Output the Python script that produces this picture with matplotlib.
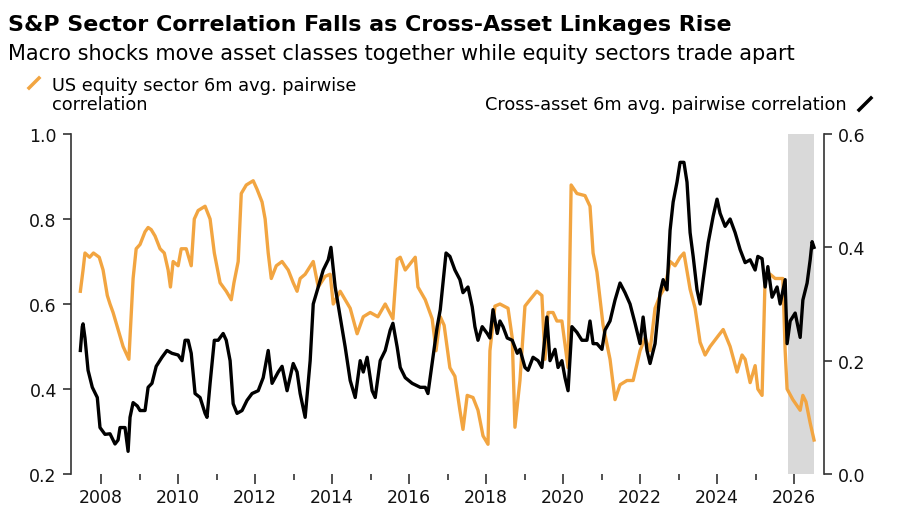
import numpy as np
import matplotlib
matplotlib.use("Agg")
import matplotlib.pyplot as plt
from matplotlib.lines import Line2D
from matplotlib.ticker import MultipleLocator

plt.rcParams['font.family'] = ['DejaVu Sans']

# US equity sector 6m avg. pairwise correlation (left axis)
eq_years = [2007.46, 2007.53, 2007.58, 2007.70, 2007.80, 2007.95, 2008.05, 2008.16,
            2008.23, 2008.31, 2008.44, 2008.57, 2008.72, 2008.83, 2008.91, 2009.01,
            2009.14, 2009.22, 2009.30, 2009.40, 2009.53, 2009.64, 2009.74, 2009.80,
            2009.87, 2010.00, 2010.08, 2010.21, 2010.34, 2010.42, 2010.52, 2010.70,
            2010.83, 2010.94, 2011.09, 2011.25, 2011.38, 2011.45, 2011.56, 2011.64,
            2011.77, 2011.95, 2012.05, 2012.18, 2012.26, 2012.34, 2012.42, 2012.55,
            2012.70, 2012.86, 2012.99, 2013.09, 2013.17, 2013.30, 2013.51, 2013.64,
            2013.82, 2013.95, 2014.03, 2014.21, 2014.47, 2014.65, 2014.81, 2014.99,
            2015.19, 2015.38, 2015.58, 2015.69, 2015.77, 2015.90, 2016.16, 2016.23,
            2016.42, 2016.60, 2016.70, 2016.81, 2016.91, 2017.06, 2017.19, 2017.32,
            2017.40, 2017.51, 2017.66, 2017.79, 2017.92, 2018.05, 2018.10, 2018.23,
            2018.36, 2018.57, 2018.68, 2018.75, 2018.88, 2019.01, 2019.14, 2019.32,
            2019.45, 2019.53, 2019.61, 2019.74, 2019.84, 2019.97, 2020.13, 2020.21,
            2020.36, 2020.57, 2020.70, 2020.78, 2020.88, 2021.04, 2021.22, 2021.35,
            2021.48, 2021.66, 2021.82, 2022.00, 2022.13, 2022.26, 2022.39, 2022.52,
            2022.65, 2022.78, 2022.91, 2023.04, 2023.14, 2023.30, 2023.43, 2023.56,
            2023.69, 2023.82, 2024.03, 2024.16, 2024.34, 2024.52, 2024.65, 2024.73,
            2024.86, 2024.99, 2025.06, 2025.17, 2025.25, 2025.38, 2025.51, 2025.71,
            2025.77, 2025.82, 2025.97, 2026.16, 2026.23, 2026.31, 2026.42, 2026.52]
eq_corr = [0.63, 0.68, 0.72, 0.71, 0.72, 0.71, 0.68, 0.62,
           0.60, 0.58, 0.54, 0.50, 0.47, 0.66, 0.73, 0.74,
           0.77, 0.78, 0.775, 0.76, 0.73, 0.72, 0.68, 0.64,
           0.70, 0.69, 0.73, 0.73, 0.69, 0.80, 0.82, 0.83,
           0.80, 0.72, 0.65, 0.63, 0.61, 0.65, 0.70, 0.86,
           0.88, 0.89, 0.87, 0.84, 0.80, 0.72, 0.66, 0.69,
           0.70, 0.68, 0.65, 0.63, 0.66, 0.67, 0.70, 0.64,
           0.665, 0.67, 0.60, 0.63, 0.59, 0.53, 0.57, 0.58,
           0.57, 0.60, 0.565, 0.705, 0.71, 0.68, 0.71, 0.64,
           0.61, 0.565, 0.49, 0.57, 0.55, 0.45, 0.43, 0.35,
           0.305, 0.385, 0.38, 0.35, 0.29, 0.27, 0.49, 0.595,
           0.60, 0.59, 0.52, 0.31, 0.42, 0.595, 0.61, 0.63,
           0.62, 0.47, 0.58, 0.58, 0.56, 0.56, 0.45, 0.88,
           0.86, 0.855, 0.83, 0.72, 0.675, 0.55, 0.47, 0.375,
           0.41, 0.42, 0.42, 0.49, 0.52, 0.49, 0.59, 0.62,
           0.64, 0.70, 0.69, 0.71, 0.72, 0.635, 0.59, 0.51,
           0.48, 0.50, 0.525, 0.54, 0.50, 0.44, 0.48, 0.47,
           0.415, 0.455, 0.40, 0.385, 0.665, 0.67, 0.66, 0.66,
           0.49, 0.40, 0.375, 0.35, 0.385, 0.37, 0.32, 0.28]

# Cross-asset 6m avg. pairwise correlation (right axis)
xa_years = [2007.46, 2007.51, 2007.53, 2007.58, 2007.66, 2007.77, 2007.90, 2007.97,
            2008.10, 2008.23, 2008.36, 2008.44, 2008.49, 2008.62, 2008.70, 2008.75,
            2008.83, 2008.94, 2009.01, 2009.14, 2009.22, 2009.32, 2009.43, 2009.58,
            2009.71, 2009.84, 2010.00, 2010.10, 2010.18, 2010.26, 2010.34, 2010.44,
            2010.57, 2010.70, 2010.75, 2010.83, 2010.94, 2011.04, 2011.17, 2011.25,
            2011.35, 2011.43, 2011.53, 2011.66, 2011.79, 2011.92, 2012.08, 2012.21,
            2012.34, 2012.44, 2012.60, 2012.70, 2012.83, 2012.99, 2013.09, 2013.17,
            2013.30, 2013.43, 2013.51, 2013.64, 2013.77, 2013.90, 2013.97, 2014.08,
            2014.21, 2014.34, 2014.47, 2014.60, 2014.73, 2014.81, 2014.91, 2015.04,
            2015.12, 2015.25, 2015.38, 2015.51, 2015.58, 2015.69, 2015.77, 2015.90,
            2016.08, 2016.29, 2016.42, 2016.49, 2016.62, 2016.73, 2016.81, 2016.96,
            2017.06, 2017.19, 2017.32, 2017.40, 2017.53, 2017.64, 2017.71, 2017.79,
            2017.90, 2018.03, 2018.10, 2018.18, 2018.29, 2018.36, 2018.44, 2018.55,
            2018.68, 2018.81, 2018.88, 2019.01, 2019.09, 2019.22, 2019.35, 2019.45,
            2019.58, 2019.66, 2019.79, 2019.87, 2019.97, 2020.05, 2020.13, 2020.23,
            2020.36, 2020.49, 2020.62, 2020.70, 2020.78, 2020.88, 2021.01, 2021.09,
            2021.22, 2021.35, 2021.48, 2021.61, 2021.74, 2021.87, 2022.00, 2022.08,
            2022.18, 2022.26, 2022.39, 2022.52, 2022.60, 2022.70, 2022.78, 2022.86,
            2022.96, 2023.04, 2023.14, 2023.22, 2023.30, 2023.38, 2023.48, 2023.56,
            2023.64, 2023.77, 2023.90, 2024.00, 2024.08, 2024.21, 2024.34, 2024.47,
            2024.60, 2024.73, 2024.86, 2024.99, 2025.06, 2025.17, 2025.25, 2025.32,
            2025.43, 2025.56, 2025.64, 2025.77, 2025.82, 2025.90, 2026.03, 2026.16,
            2026.23, 2026.34, 2026.42, 2026.47, 2026.52]
xa_corr = [0.218, 0.26, 0.265, 0.24, 0.183, 0.153, 0.135, 0.082,
           0.07, 0.071, 0.053, 0.06, 0.082, 0.082, 0.04, 0.10,
           0.126, 0.12, 0.112, 0.112, 0.153, 0.16, 0.19, 0.206,
           0.218, 0.213, 0.21, 0.20, 0.236, 0.236, 0.213, 0.142,
           0.135, 0.107, 0.10, 0.16, 0.236, 0.236, 0.248, 0.236,
           0.20, 0.124, 0.107, 0.112, 0.13, 0.142, 0.147, 0.17,
           0.218, 0.16, 0.18, 0.19, 0.147, 0.195, 0.18, 0.142,
           0.10, 0.20, 0.30, 0.33, 0.36, 0.378, 0.40, 0.33,
           0.277, 0.224, 0.165, 0.135, 0.20, 0.18, 0.206, 0.147,
           0.135, 0.20, 0.218, 0.254, 0.266, 0.224, 0.188, 0.17,
           0.16, 0.153, 0.153, 0.142, 0.206, 0.26, 0.29, 0.39,
           0.384, 0.36, 0.343, 0.32, 0.33, 0.295, 0.26, 0.236,
           0.26, 0.248, 0.24, 0.29, 0.248, 0.27, 0.26, 0.24,
           0.236, 0.213, 0.22, 0.188, 0.183, 0.206, 0.20, 0.188,
           0.277, 0.20, 0.22, 0.188, 0.20, 0.17, 0.147, 0.26,
           0.25, 0.236, 0.236, 0.27, 0.23, 0.23, 0.22, 0.254,
           0.27, 0.307, 0.337, 0.32, 0.30, 0.266, 0.23, 0.277,
           0.218, 0.195, 0.23, 0.32, 0.343, 0.325, 0.43, 0.48,
           0.515, 0.55, 0.55, 0.515, 0.426, 0.384, 0.325, 0.30,
           0.343, 0.408, 0.455, 0.485, 0.46, 0.437, 0.45, 0.426,
           0.396, 0.373, 0.378, 0.36, 0.384, 0.38, 0.33, 0.366,
           0.312, 0.33, 0.30, 0.343, 0.23, 0.27, 0.284, 0.241,
           0.307, 0.337, 0.378, 0.41, 0.40]

shade_start, shade_end = 2025.84, 2026.51
year_ticks = list(range(2008, 2027, 2))

orange = '#F2A541'
spine_col = '#333333'

fig = plt.figure(figsize=(9, 5.1), dpi=100)
ax = fig.add_axes([0.0786, 0.0686, 0.837, 0.6667])
ax2 = ax.twinx()

ax.axvspan(shade_start, shade_end, color='#d9d9d9', lw=0, zorder=0)
ax.plot(eq_years, eq_corr, color=orange, lw=2.4, zorder=3)
ax2.plot(xa_years, xa_corr, color='black', lw=2.4, zorder=3)

ax.set_xlim(2007.21, 2026.78)
ax.set_ylim(0.2, 1.0)
ax2.set_ylim(0.0, 0.6)

ax.set_yticks([0.2, 0.4, 0.6, 0.8, 1.0])
ax.set_yticklabels(['0.2', '0.4', '0.6', '0.8', '1.0'])
ax2.set_yticks([0.0, 0.2, 0.4, 0.6])
ax2.set_yticklabels(['0.0', '0.2', '0.4', '0.6'])

ax.set_xticks(year_ticks)
ax.set_xticklabels([str(y) for y in year_ticks])
ax.xaxis.set_minor_locator(MultipleLocator(1))

for a in (ax, ax2):
    a.spines['top'].set_visible(False)
    a.spines['bottom'].set_visible(False)
ax.spines['right'].set_visible(False)
ax2.spines['left'].set_visible(False)
ax.spines['left'].set_color(spine_col)
ax2.spines['right'].set_color(spine_col)
ax.spines['left'].set_linewidth(1.2)
ax2.spines['right'].set_linewidth(1.2)

ax.tick_params(axis='y', direction='out', length=6, width=1.2, color=spine_col,
               labelsize=12.5, pad=4, labelcolor='#111111')
ax2.tick_params(axis='y', direction='out', length=6, width=1.2, color=spine_col,
                labelsize=12.5, pad=4, labelcolor='#111111')
ax.tick_params(axis='x', which='major', direction='out', length=7, width=1.2,
               color=spine_col, labelsize=12.5, pad=3, labelcolor='#111111')
ax.tick_params(axis='x', which='minor', direction='out', length=4, width=1.2,
               color=spine_col)

# headline text
fig.text(0.009, 0.94, 'S&P Sector Correlation Falls as Cross-Asset Linkages Rise',
         fontsize=15.9, fontweight='bold', va='baseline', ha='left')
fig.text(0.009, 0.882, 'Macro shocks move asset classes together while equity sectors trade apart',
         fontsize=15, va='baseline', ha='left')

# legend entries
fig.text(0.058, 0.8216, 'US equity sector 6m avg. pairwise', fontsize=12.8,
         va='baseline', ha='left')
fig.text(0.058, 0.784, 'correlation', fontsize=12.8, va='baseline', ha='left')
fig.add_artist(Line2D([29 / 900, 39 / 900], [1 - 89 / 510, 1 - 79 / 510],
                      color=orange, lw=2.5, transform=fig.transFigure))

fig.text(0.941, 0.784, 'Cross-asset 6m avg. pairwise correlation', fontsize=12.8,
         va='baseline', ha='right')
fig.add_artist(Line2D([859 / 900, 871 / 900], [1 - 111 / 510, 1 - 99 / 510],
                      color='black', lw=2.5, transform=fig.transFigure))

fig.savefig('out.png', dpi=100, facecolor='white')
